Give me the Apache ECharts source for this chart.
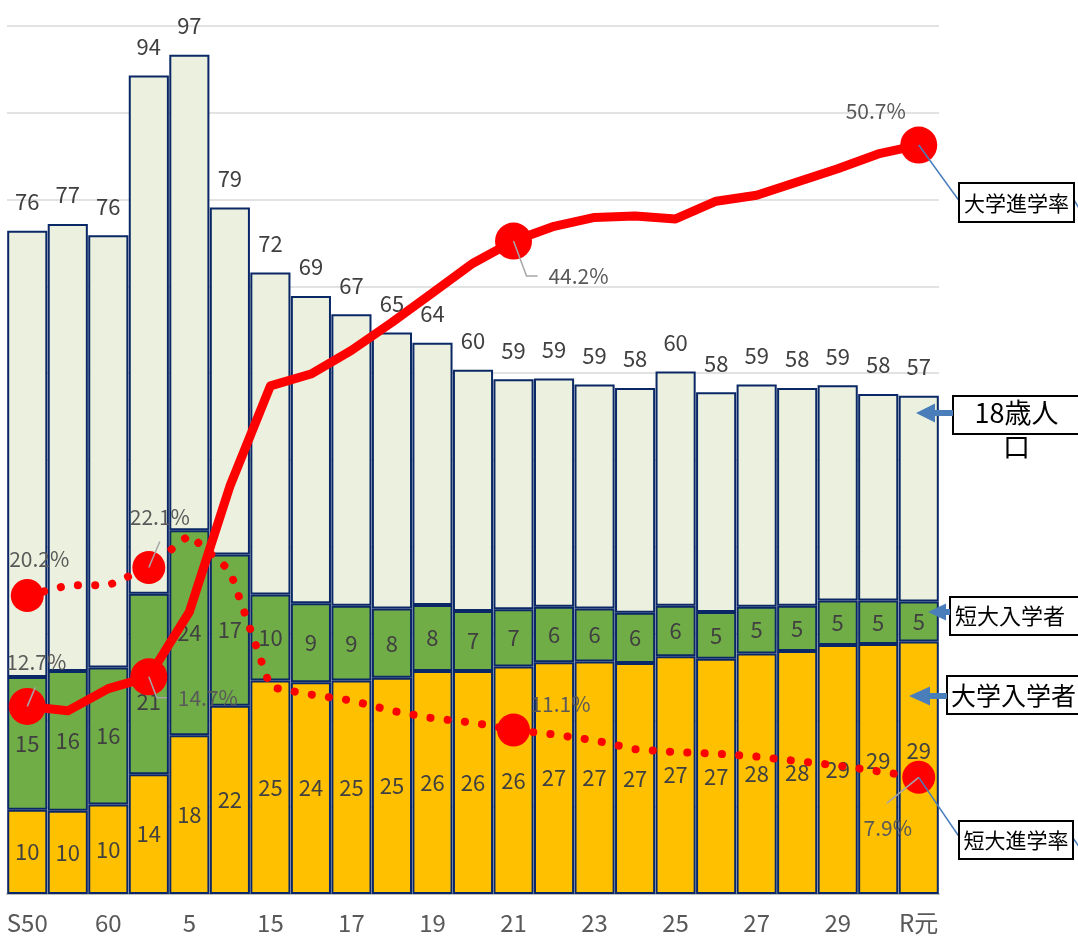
<!DOCTYPE html>
<html><head><meta charset="utf-8">
<script src="https://cdn.jsdelivr.net/npm/echarts@6/dist/echarts.min.js"></script>
<style>html,body{margin:0;padding:0;background:#fff;} #c{width:1078px;height:939px;}</style>
</head><body><div id="c"></div>
<script>
// ---- data ----
const categories = ['S50','55','60','H2','5','10','15','16','17','18','19','20','21','22','23','24','25','26','27','28','29','30','R元'];
const population18 = [76.4,77.2,75.9,94.3,96.7,79.1,71.6,68.9,66.8,64.7,63.5,60.4,59.3,59.4,58.7,58.3,60.2,57.8,58.7,58.3,58.6,57.6,57.4];
const univEntrants = [9.7,9.6,10.3,13.8,18.3,21.7,24.6,24.4,24.6,24.9,25.7,25.7,26.2,26.7,26.8,26.6,27.4,27.1,27.7,28.0,28.7,28.8,29.1];
const juniorEntrants = [15.3,16.1,15.8,20.8,23.6,17.4,9.9,9.1,8.6,8.0,7.6,6.9,6.6,6.4,6.1,5.8,5.8,5.4,5.4,5.2,5.1,5.0,4.6];
const univRate = [12.7,12.4,13.9,14.7,19.1,27.6,34.4,35.2,36.8,38.7,40.7,42.7,44.2,45.2,45.8,45.9,45.7,46.9,47.3,48.2,49.1,50.1,50.7];
const juniorRate = [20.2,20.9,20.9,22.1,24.3,21.9,14.0,13.5,13.1,12.4,11.9,11.6,11.1,10.8,10.4,9.8,9.6,9.5,9.3,9.0,8.7,8.3,7.9];

// ---- layout / style ----
const FONT = '"Noto Sans CJK JP","Noto Sans",sans-serif';
const LABEL_COLOR = '#404040';
const restPop = population18.map((t, i) => +(t - univEntrants[i] - juniorEntrants[i]).toFixed(2));
const univLabelOffsets = {0: [9, -44], 3: [59, 21], 12: [65, 35], 22: [-43, -34]};
const juniorLabelOffsets = {0: [12, -37], 3: [11, -51], 12: [47, -26], 22: [-31, 51]};
const univBarLabelOffsets = {21: [0, -8], 22: [0, -17]};
const juniorBarLabelOffsets = {3: [0, 18]};

function barData(vals, offsets) {
  return vals.map((v, i) => offsets[i] ? {value: v, label: {offset: offsets[i]}} : v);
}
function rateData(vals, offsets, size) {
  return vals.map((v, i) => {
    if (offsets[i]) {
      return {value: v, symbol: 'circle', symbolSize: size,
        label: {show: true, position: 'inside', offset: offsets[i], formatter: v.toFixed(1) + '%',
          color: '#595959', fontSize: 21, fontFamily: FONT, textBorderWidth: 0, align: 'center', verticalAlign: 'middle'}};
    }
    return {value: v, symbol: 'none'};
  });
}
const barBorder = {borderColor: '#0A2766', borderWidth: 2};
const insideLabel = {show: true, position: 'inside', color: LABEL_COLOR, fontSize: 22, fontFamily: FONT,
  formatter: p => String(Math.round(p.value))};

const chart = echarts.init(document.getElementById('c'), null, {renderer: 'canvas'});
chart.setOption({
  animation: false,
  backgroundColor: '#fff',
  grid: {left: 7, right: 139, top: 26, bottom: 45, containLabel: false},
  xAxis: {
    type: 'category', data: categories, boundaryGap: true,
    axisLine: {show: true, lineStyle: {color: '#BFBFBF', width: 2}},
    axisTick: {show: false},
    axisLabel: {interval: 1, color: '#595959', fontSize: 24, fontFamily: FONT, margin: 17}
  },
  yAxis: [
    {type: 'value', min: 0, max: 100, interval: 10, axisLabel: {show: false}, axisLine: {show: false}, axisTick: {show: false},
     splitLine: {show: true, lineStyle: {color: '#D9D9D9', width: 1.5}}},
    {type: 'value', min: 0, max: 58.76, show: false, splitLine: {show: false}}
  ],
  series: [
    {name: '大学入学者', type: 'bar', stack: 'p', barCategoryGap: '1%', data: barData(univEntrants, univBarLabelOffsets),
     itemStyle: Object.assign({color: '#FFC000'}, barBorder), label: insideLabel},
    {name: '短大入学者', type: 'bar', stack: 'p', barCategoryGap: '1%', data: barData(juniorEntrants, juniorBarLabelOffsets),
     itemStyle: Object.assign({color: '#70AD47'}, barBorder), label: insideLabel},
    {name: '18歳人口', type: 'bar', stack: 'p', barCategoryGap: '1%', data: restPop,
     itemStyle: Object.assign({color: '#EBF1DE'}, barBorder),
     label: {show: true, position: 'top', distance: 18, color: LABEL_COLOR, fontSize: 22, fontFamily: FONT,
       formatter: p => String(Math.round(population18[p.dataIndex]))}},
    {name: '大学進学率', type: 'line', yAxisIndex: 1, data: rateData(univRate, univLabelOffsets, 37),
     showAllSymbol: true, itemStyle: {color: '#FF0000'}, lineStyle: {color: '#FF0000', width: 9, join: 'round'}, z: 5},
    {name: '短大進学率', type: 'line', yAxisIndex: 1, data: rateData(juniorRate, juniorLabelOffsets, 33),
     showAllSymbol: true, itemStyle: {color: '#FF0000'},
     lineStyle: {color: '#FF0000', width: 8, type: [0.1, 17.2], cap: 'round'}, z: 6}
  ]
});

// ---- annotations (leader lines, callout boxes, arrows) ----
function px(si, i, v) { return chart.convertToPixel({seriesIndex: si}, [i, v]); }
function rel(c, dx, dy) { return [c[0] + dx, c[1] + dy]; }
const u0 = px(3, 0, univRate[0]), u3 = px(3, 3, univRate[3]), u12 = px(3, 12, univRate[12]), u22 = px(3, 22, univRate[22]);
const j3 = px(4, 3, juniorRate[3]), j22 = px(4, 22, juniorRate[22]);
const gray = {stroke: '#A6A6A6', lineWidth: 1.5, fill: null};
const blue = {stroke: '#4A7EBB', lineWidth: 1.5, fill: null};
const ARROW = '#4A7EBB';
const g = [];
function poly(points, style) { g.push({type: 'polyline', shape: {points}, style, z: 100, silent: true}); }
poly([u0, rel(u0, 8, -19)], gray);
poly([u3, rel(u3, 8, 21), rel(u3, 18, 21)], gray);
poly([u12, rel(u12, 13, 35), rel(u12, 24, 35)], gray);
poly([j3, rel(j3, 11, -26)], gray);
poly([j22, rel(j22, -32, 26)], gray);
poly([u22, [960, 202]], blue);
poly([[1074, 200], [1080, 210]], blue);
poly([j22, [960, 838]], blue);
poly([[1073, 838], [1080, 848]], blue);

function box(x, y, w, h) {
  g.push({type: 'rect', shape: {x, y, width: w, height: h}, style: {fill: '#fff', stroke: '#000', lineWidth: 2}, z: 100, silent: true});
}
function txt(text, x, y, size, align, extra) {
  g.push({type: 'text', x, y, z: 101, silent: true,
    style: Object.assign({text, fill: '#000', font: size + 'px ' + FONT, align: align, verticalAlign: 'middle'}, extra || {})});
}
box(959, 183, 115, 39); txt('大学進学率', 1016.5, 203, 21, 'center');
box(953, 396, 130, 38); txt('18歳人\n口', 1016.5, 430, 27, 'center', {lineHeight: 34});
box(950, 597, 135, 38); txt('短大入学者', 955, 616, 22, 'left');
box(947, 676, 135, 38); txt('大学入学者', 951, 695, 25, 'left');
box(959, 821, 114, 38); txt('短大進学率', 1016, 840, 21, 'center');

function arrow(tipX, y, baseX, endX, half, shaft) {
  g.push({type: 'polygon', z: 102, silent: true, style: {fill: ARROW},
    shape: {points: [[tipX, y], [baseX, y - half], [baseX, y - shaft], [endX, y - shaft], [endX, y + shaft], [baseX, y + shaft], [baseX, y + half]]}});
}
arrow(916, 413, 935, 953, 9.5, 3);
arrow(928, 612, 946, 950, 8.5, 3);
arrow(909, 696, 930, 947, 9.5, 3);

chart.setOption({graphic: {elements: g}});
</script>
</body></html>
